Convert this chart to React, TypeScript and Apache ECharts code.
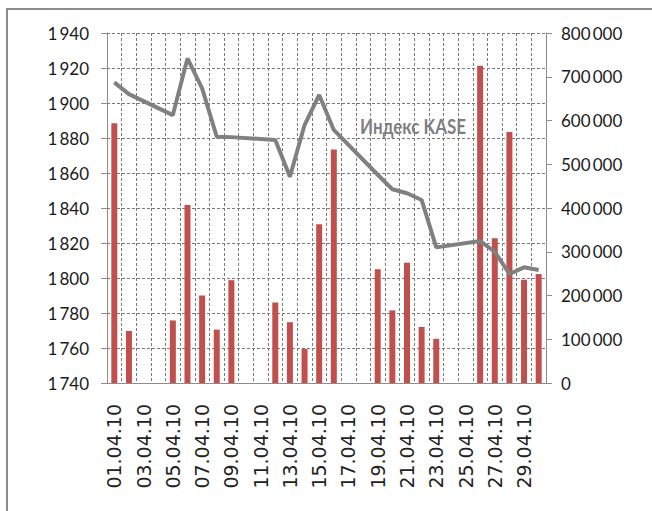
import React, { useEffect, useRef } from "react";
import * as echarts from "echarts";

const categories = [
  "01.04.10", "02.04.10", "03.04.10", "04.04.10", "05.04.10", "06.04.10",
  "07.04.10", "08.04.10", "09.04.10", "10.04.10", "11.04.10", "12.04.10",
  "13.04.10", "14.04.10", "15.04.10", "16.04.10", "17.04.10", "18.04.10",
  "19.04.10", "20.04.10", "21.04.10", "22.04.10", "23.04.10", "24.04.10",
  "25.04.10", "26.04.10", "27.04.10", "28.04.10", "29.04.10", "30.04.10",
];

const volume = [
  594000, 119000, null, null, 143000, 407000,
  200000, 122000, 235000, null, null, 184000,
  139000, 78000, 363000, 534000, null, null,
  260000, 166000, 275000, 128000, 101000, null,
  null, 725000, 331000, 574000, 236000, 249000,
];

const kase = [
  1911.8, 1905.1, null, null, 1893.1, 1925.5,
  1908.4, 1880.7, 1880.5, null, null, 1878.9,
  1857.9, 1887.4, 1904.6, 1884.6, null, null,
  1859.0, 1850.7, 1848.4, 1844.6, 1817.5, null,
  null, 1821.1, 1815.0, 1802.3, 1806.1, 1804.6,
];

const leftAxis = { min: 1740, max: 1940, interval: 20 };
const rightAxis = { min: 0, max: 800000, interval: 100000 };
const seriesLabel = "Индекс KASE";

const fmt = (v: number) =>
  String(v).replace(/\B(?=(\d{3})+(?!\d))/g, "\u2009");

export default function App() {
  const ref = useRef<HTMLDivElement>(null);
  useEffect(() => {
    if (!ref.current) return;
    const chart = echarts.init(ref.current, null, { renderer: "svg" });
    const axisFont = {
      fontFamily: "Lato",
      fontSize: 17,
      color: "#1a1a1a",
    };
    chart.setOption({
      animation: false,
      backgroundColor: "#ffffff",
      grid: { left: 107, right: 106, top: 33, bottom: 128 },
      graphic: [
        {
          type: "rect",
          shape: { x: 7, y: 9, width: 700, height: 600 },
          style: { fill: "none", stroke: "#8c8c8c", lineWidth: 2 },
          silent: true,
          z: -1,
        },
        {
          type: "text",
          x: 360,
          y: 126,
          scaleX: 0.85,
          style: {
            text: seriesLabel,
            fill: "#7f7f7f",
            font: "bold 20px Lato",
            verticalAlign: "middle",
            textAlign: "left",
          },
          z: 10,
        },
      ],
      xAxis: {
        type: "category",
        data: categories,
        boundaryGap: true,
        axisLine: { lineStyle: { color: "#8c8c8c", width: 1 } },
        axisTick: { interval: 1, length: 6, lineStyle: { color: "#8c8c8c" } },
        axisLabel: {
          interval: 1,
          rotate: 90,
          margin: 21,
          fontFamily: "DejaVu Sans",
          fontSize: 19,
          color: "#222",
        },
        splitLine: {
          show: true,
          interval: 0,
          lineStyle: { color: "#7a7a7a", type: [3, 2], width: 1 },
        },
      },
      yAxis: [
        {
          type: "value",
          min: leftAxis.min,
          max: leftAxis.max,
          interval: leftAxis.interval,
          position: "left",
          axisLine: { show: true, lineStyle: { color: "#8c8c8c" } },
          axisTick: { show: true, length: 6, lineStyle: { color: "#8c8c8c" } },
          axisLabel: { ...axisFont, margin: 18, formatter: fmt },
          splitLine: {
            show: true,
            lineStyle: { color: "#7a7a7a", type: [3, 2], width: 1 },
          },
        },
        {
          type: "value",
          min: rightAxis.min,
          max: rightAxis.max,
          interval: rightAxis.interval,
          position: "right",
          axisLine: { show: true, lineStyle: { color: "#8c8c8c" } },
          axisTick: { show: true, length: 6, lineStyle: { color: "#8c8c8c" } },
          axisLabel: { ...axisFont, margin: 15, formatter: fmt },
          splitLine: { show: false },
        },
      ],
      series: [
        {
          name: "Объем",
          type: "bar",
          yAxisIndex: 1,
          data: volume,
          barWidth: 6,
          itemStyle: { color: "#c0504d" },
          z: 2,
        },
        {
          name: seriesLabel,
          type: "line",
          yAxisIndex: 0,
          data: kase,
          connectNulls: true,
          showSymbol: false,
          symbol: "none",
          lineStyle: { color: "#808080", width: 4 },
          z: 3,
        },
      ],
    });
    return () => chart.dispose();
  }, []);
  return (
    <div
      ref={ref}
      style={{ position: "fixed", left: 0, top: 0, width: 652, height: 511 }}
    />
  );
}
